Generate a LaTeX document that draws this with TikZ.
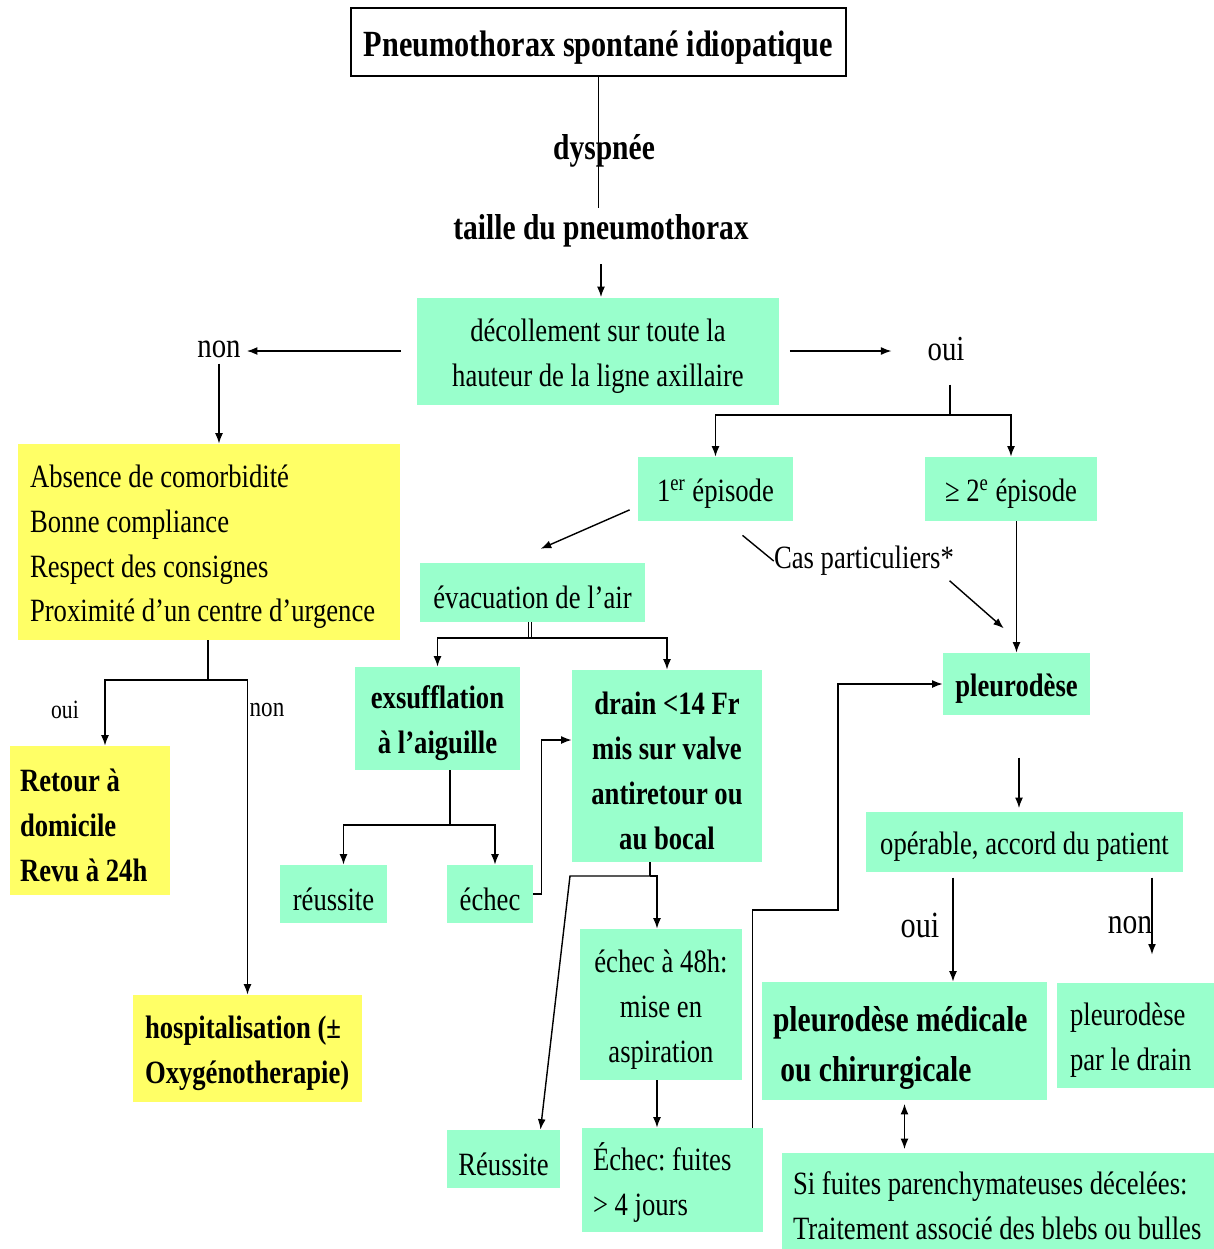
\documentclass[tikz,border=0pt]{standalone}
\usepackage{fontspec}
\setmainfont{Liberation Serif}[FakeStretch=0.82]
\usetikzlibrary{arrows.meta}
\definecolor{vert}{HTML}{99FFCC}
\definecolor{jaune}{HTML}{FFFF66}
\newcommand{\haut}{\rule{0pt}{18.5pt}}
\frenchspacing
\tikzset{
  gras/.style={font=\fontsize{18.5}{25.5}\selectfont\bfseries},
  grand/.style={font=\fontsize{20.5}{28.3}\selectfont\bfseries},
  gbox/.style={fill=vert,inner sep=0pt,align=flush center,execute at begin node=\haut},
  ybox/.style={fill=jaune,inner sep=0pt,align=flush left,execute at begin node=\haut},
  ln/.style={line width=0.8pt},
  fl/.style={ln,-{Latex[length=6pt,width=4.5pt]}},
}
\begin{document}
\begin{tikzpicture}[x=0.02cm,y=-0.02cm,every node/.style={font=\fontsize{18.5}{25.5}\selectfont}]
\useasboundingbox (0,0) rectangle (1214,1249);
% haut
\node[draw,ln,fill=white,minimum width=9.9cm,minimum height=1.36cm,font=\fontsize{21}{25}\selectfont\bfseries] (titre) at (598.5,42) {\rule{0pt}{21.3pt}Pneumothorax spontané idiopatique};
\node[grand] (dysp) at (604,151) {dyspnée};
\node[grand] (taille) at (601,231) {taille du pneumothorax};
\node[gbox,text width=6.8cm,inner xsep=0.22cm,minimum height=2.14cm] (decol) at (598,351) {décollement sur toute la\\hauteur de la ligne axillaire};
\node[font=\fontsize{20}{24}\selectfont] (non) at (219,349) {non};
\node[font=\fontsize{20}{24}\selectfont] (oui) at (946,349) {oui};
\draw[ln] (titre.south) -- (titre.south |- taille.north);
\draw[fl,shorten <=6pt] (taille.south) -- (taille.south |- decol.north);
\draw[fl,shorten <=9pt] (decol.west) -- (decol.west -| non.east);
\draw[fl,shorten <=6pt,shorten >=17pt] (decol.east) -- (decol.east -| oui.west);
% branche non
\node[ybox,text width=7.16cm,inner xsep=0.24cm,minimum height=3.92cm] (crit) at (209,542) {Absence de comorbidité\\Bonne compliance\\Respect des consignes\\Proximité d’un centre d’urgence};
\draw[fl] (non.south) -- (non.south |- crit.north);
\node[ybox,gras,text width=2.8cm,inner xsep=0.2cm,minimum height=2.98cm] (retour) at (90,820.5) {Retour à\\domicile\\Revu à 24h};
\node[ybox,gras,text width=4.1cm,inner xsep=0.24cm,minimum height=2.14cm] (hosp) at (247.5,1048.5) {hospitalisation (±\\Oxygénotherapie)};
\node[font=\fontsize{15}{18}\selectfont] (oui2) at (65,710) {oui};
\node[font=\fontsize{16}{19}\selectfont] (non2) at (267,710) {non};
\coordinate (bif1) at (208,680);
\draw[ln] (crit.south -| bif1) -- (bif1);
\draw[fl] (bif1) -| ([xshift=0.3cm]retour.north);
\draw[fl] (bif1) -| (hosp.north);
% branche oui
\node[gbox,minimum width=3.1cm,minimum height=1.28cm] (ep1) at (715.5,489) {1\textsuperscript{er} épisode};
\node[gbox,minimum width=3.44cm,minimum height=1.28cm] (ep2) at (1011,489) {≥ 2\textsuperscript{e} épisode};
\coordinate (bif2) at (950,415);
\draw[ln,shorten <=10pt] (oui.south -| bif2) -- (bif2);
\draw[fl] (bif2) -| (ep1.north);
\draw[fl] (bif2) -| (ep2.north);
\node[gbox,minimum width=4.5cm,minimum height=1.18cm] (evac) at (532.5,592.5) {évacuation de l’air};
\node[inner sep=0pt] (cas) at (864,561) {Cas particuliers*};
\node[gbox,gras,minimum width=2.94cm,minimum height=1.24cm] (pleuro) at (1016.5,684) {pleurodèse};
\draw[fl,shorten <=5pt,shorten >=2pt] ([yshift=0.3cm]ep1.south west) -- ([xshift=0.1cm,yshift=0.25cm]evac.north);
\draw[ln] ([xshift=0.54cm,yshift=-0.28cm]ep1.south) -- (cas.west);
\draw[fl,shorten <=4pt,shorten >=21pt] ([xshift=-0.2cm]cas.south east) -- ([xshift=0.3cm]pleuro.north);
\draw[fl] (ep2.south -| pleuro.north) -- (pleuro.north);
% evacuation
\node[gbox,gras,text width=2.9cm,inner xsep=0.2cm,minimum height=2.06cm] (exsuf) at (437.5,718.5) {exsufflation\\à l’aiguille};
\node[gbox,gras,text width=3.4cm,inner xsep=0.2cm,minimum height=3.84cm] (drain) at (667,766) {drain <14 Fr\\mis sur valve\\antiretour ou\\au bocal};
\coordinate (bif3) at (530,638);
\draw[ln,double,double distance=1.2pt] (evac.south -| bif3) -- (bif3);
\draw[fl] (bif3) -| (exsuf.north);
\draw[fl] (bif3) -| (drain.north);
\node[gbox,minimum width=2.14cm,minimum height=1.16cm] (reus1) at (333.5,894) {réussite};
\node[gbox,minimum width=1.72cm,minimum height=1.16cm] (echec1) at (490,894) {échec};
\coordinate (bif4) at (450,825);
\draw[ln] (exsuf.south -| bif4) -- (bif4);
\draw[fl] (bif4) -| ([xshift=0.2cm]reus1.north);
\draw[fl] (bif4) -| ([xshift=0.1cm]echec1.north);
\draw[fl] (echec1.east) -- ++(8,0) |- ([yshift=0.52cm]drain.west);
% drain
\node[gbox,text width=2.84cm,inner xsep=0.2cm,minimum height=3.02cm] (ech48) at (661,1004.5) {échec à 48h:\\mise en\\aspiration};
\node[gbox,minimum width=2.26cm,minimum height=1.16cm] (reus2) at (503.5,1159) {Réussite};
\node[gbox,align=flush left,text width=3.18cm,inner xsep=0.22cm,minimum height=2.08cm] (echec2) at (672.5,1180) {Échec: fuites\\> 4 jours};
\coordinate (bif5) at (650,876);
\coordinate (coin) at (570,876);
\draw[ln] (drain.south -| bif5) -- (bif5);
\draw[fl] (bif5) -| ([xshift=-0.08cm]ech48.north);
\draw[fl] (bif5) -- (coin) -- ([xshift=0.74cm]reus2.north);
\draw[fl] ([xshift=-0.08cm]ech48.south) -- ([xshift=-0.08cm]ech48.south |- echec2.north);
\coordinate (coude) at (838,910);
\draw[fl] ([xshift=-0.22cm]echec2.north east) |- (coude) |- (pleuro.west);
% pleurodese
\node[gbox,minimum width=6.34cm,minimum height=1.2cm] (oper) at (1024.5,842) {opérable, accord du patient};
\draw[fl,shorten <=24pt,shorten >=2pt] ([xshift=0.05cm]pleuro.south) -- ([xshift=0.05cm]pleuro.south |- oper.north);
\node[gbox,grand,align=flush left,text width=5.26cm,inner xsep=0.22cm,minimum height=2.36cm] (pmed) at (904.5,1041) {\rule{0pt}{22pt}pleurodèse médicale\\\ ou chirurgicale};
\node[gbox,align=flush left,text width=2.62cm,inner xsep=0.26cm,minimum height=2.1cm] (pdrain) at (1135.5,1035.5) {pleurodèse\\par le drain};
\node[gbox,align=flush left,text width=8.2cm,inner xsep=0.22cm,minimum height=1.92cm] (sif) at (998,1201) {Si fuites parenchymateuses décelées:\\Traitement associé des blebs ou bulles};
\node[font=\fontsize{21}{24}\selectfont] (oui3) at (920,925) {oui};
\node[font=\fontsize{20.5}{24}\selectfont] (non3) at (1130,925) {non};
\draw[fl,shorten <=3pt] ([xshift=0.97cm]pmed.north |- oper.south) -- ([xshift=0.97cm]pmed.north);
\draw[fl,shorten <=3pt,shorten >=16pt] ([xshift=0.33cm]pdrain.north |- oper.south) -- ([xshift=0.33cm]pdrain.north);
\draw[ln,{Latex[length=6pt,width=4.5pt]}-{Latex[length=6pt,width=4.5pt]},shorten <=2pt,shorten >=2pt] (pmed.south) -- (pmed.south |- sif.north);
\end{tikzpicture}
\end{document}
